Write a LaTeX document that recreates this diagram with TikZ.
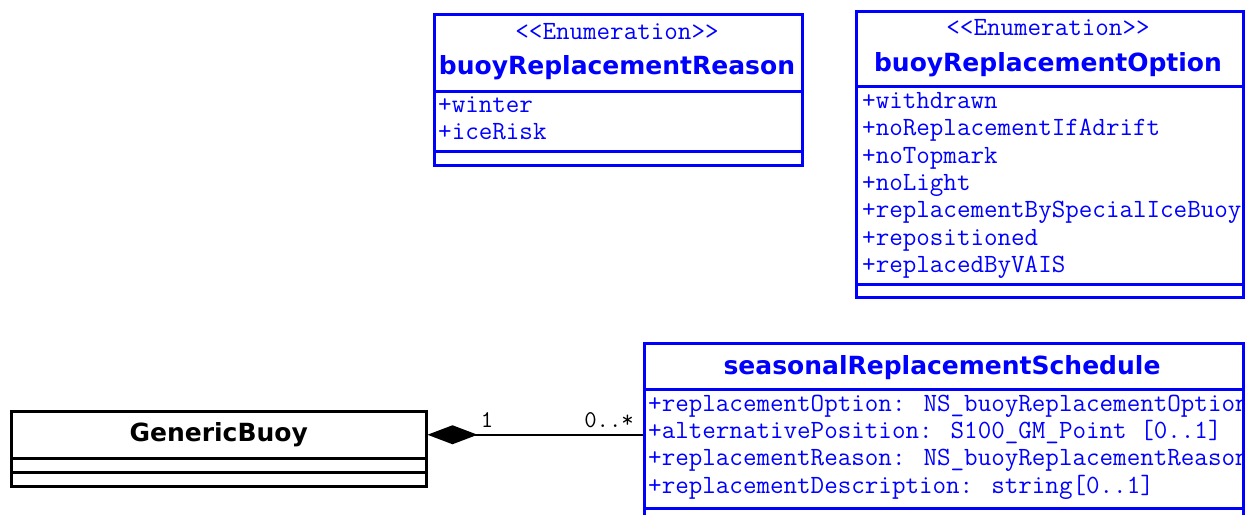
\documentclass[tikz,border=0pt]{standalone}
\usepackage{fontspec}
\newfontfamily\namefont{DejaVu Sans}
\usetikzlibrary{positioning,arrows.meta}
\definecolor{umlblue}{RGB}{0,0,255}

\begin{document}
\begin{tikzpicture}[x=1pt, y=-1pt, inner sep=0pt,
   comp/.style={draw=umlblue, line width=3pt, anchor=north west},
   bcomp/.style={draw=black, line width=2.5pt, anchor=north west},
   clsname/.style={anchor=base, text=umlblue, font=\namefont\bfseries\fontsize{25}{25}\selectfont},
   stereo/.style={anchor=base, text=umlblue, font=\ttfamily\fontsize{26.3}{26.3}\selectfont},
   attr/.style={anchor=base west, text=umlblue, font=\ttfamily\fontsize{26.3}{26.3}\selectfont},
   mult/.style={anchor=base, font=\ttfamily\fontsize{24}{24}\selectfont}]
   \useasboundingbox (0,0) rectangle (1255,514);
   \clip (0,0) rectangle (1255,514);

   % class texts, cut at the right edge of the boxes
   \begin{scope}
    \clip (0,0) rectangle (1241,514);
    \node[stereo] (rsnS) at (617,39) {<<Enumeration>>};
    \node[clsname] (rsnN) at (617,74) {buoyReplacementReason};
    \node[attr] at (438,112) {+winter};
    \node[attr] at (438,139) {+iceRisk};

    \node[stereo] (optS) at (1048,35) {<<Enumeration>>};
    \node[clsname] (optN) at (1048,71) {buoyReplacementOption};
    \node[attr] at (862,108) {+withdrawn};
    \node[attr] at (862,135.5) {+noReplacementIfAdrift};
    \node[attr] at (862,163) {+noTopmark};
    \node[attr] at (862,190) {+noLight};
    \node[attr] at (862,217.5) {+replacementBySpecialIceBuoy};
    \node[attr] at (862,245) {+repositioned};
    \node[attr] at (862,272) {+replacedByVAIS};

    \node[clsname] (schN) at (942,374) {seasonalReplacementSchedule};
    \node[attr] at (648,411) {+replacementOption: NS\_buoyReplacementOption};
    \node[attr] at (648,438) {+alternativePosition: S100\_GM\_Point [0..1]};
    \node[attr] at (648,465) {+replacementReason: NS\_buoyReplacementReason};
    \node[attr] at (648,493) {+replacementDescription: string[0..1]};
   \end{scope}

   % compartments
   \node[comp, minimum width=368pt, minimum height=77pt] (rsnH) at (433,13) {};
   \node[comp, minimum width=368pt, minimum height=60pt] (rsnA) at (433,90) {};
   \node[comp, minimum width=368pt, minimum height=14pt] (rsnO) at (433,150) {};

   \node[comp, minimum width=387pt, minimum height=75pt] (optH) at (855,10) {};
   \node[comp, minimum width=387pt, minimum height=198pt] (optA) at (855,85) {};
   \node[comp, minimum width=387pt, minimum height=13pt] (optO) at (855,283) {};

   \node[comp, minimum width=599pt, minimum height=46pt] (schH) at (643,342) {};
   \node[comp, minimum width=599pt, minimum height=119pt] (schA) at (643,388) {};
   \node[comp, minimum width=599pt, minimum height=30pt] (schO) at (643,507) {};

   \node[bcomp, minimum width=415pt, minimum height=47pt] (buoyH) at (10,410) {};
   \node[bcomp, minimum width=415pt, minimum height=14pt] (buoyA) at (10,457) {};
   \node[bcomp, minimum width=415pt, minimum height=14pt] (buoyO) at (10,471) {};
   \node[font=\namefont\bfseries\fontsize{25}{25}\selectfont] (buoyN) at (buoyH.center) {GenericBuoy};

   % composition
   \coordinate (schIn) at (buoyH.east -| schA.west);
   \draw[line width=2.5pt, {Diamond[length=50pt, width=19pt]}-] (buoyH.east) -- (schIn);
   \node[mult] at (487,427) {1};
   \node[mult, anchor=base east] at (634,427) {0..*};
\end{tikzpicture}
\end{document}
